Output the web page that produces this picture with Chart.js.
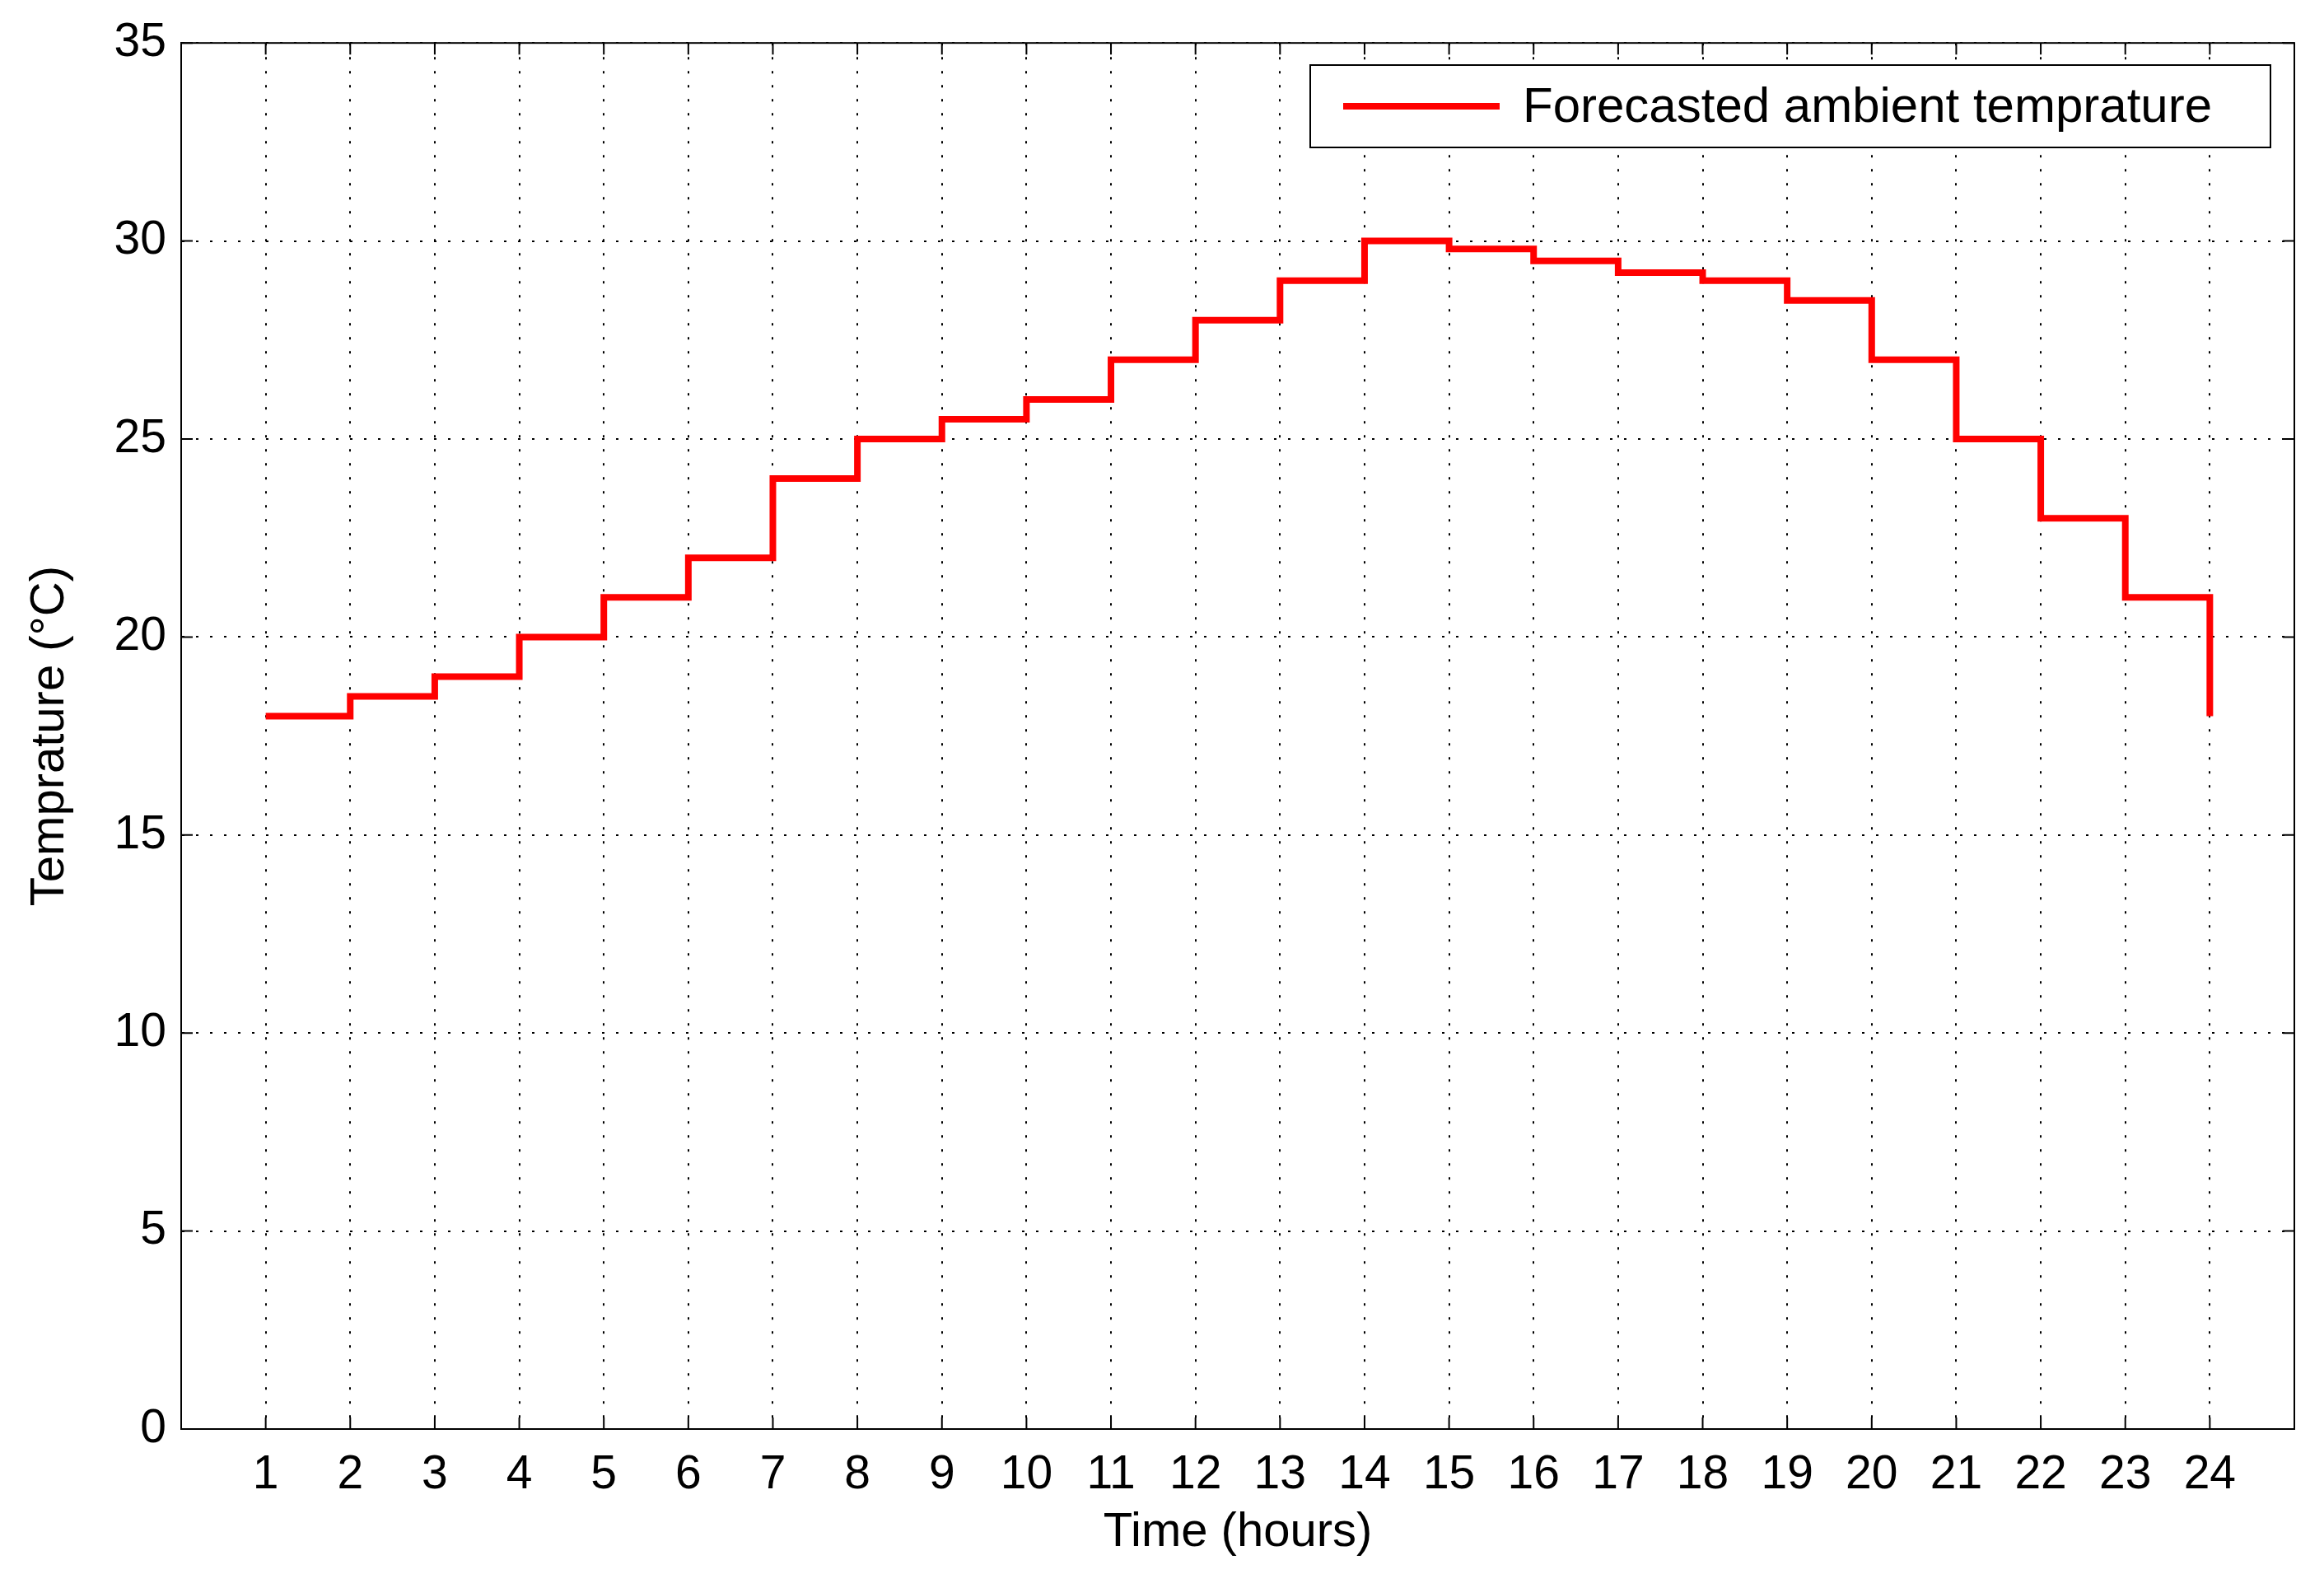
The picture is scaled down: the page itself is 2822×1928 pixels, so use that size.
<!DOCTYPE html>
<html>
<head>
<meta charset="utf-8">
<script src="https://cdn.jsdelivr.net/npm/chart.js@4"></script>
<style>
  body { margin: 0; background: #fff; }
  canvas { display: block; }
</style>
</head>
<body>
<canvas id="grafico" width="2822" height="1928"></canvas>
<script>
const horas = [1, 2, 3, 4, 5, 6, 7, 8, 9, 10, 11, 12, 13, 14, 15, 16, 17, 18, 19, 20, 21, 22, 23, 24];
const temperaturas = [18, 18.5, 19, 20, 21, 22, 24, 25, 25.5, 26, 27, 28, 29, 30, 29.8, 29.5, 29.2, 29, 28.5, 27, 25, 23, 21, 18];
const ticksY = [0, 5, 10, 15, 20, 25, 30, 35];
const rotuloSerie = 'Forecasted ambient temprature';
const fonte = 'Liberation Sans, Arial, sans-serif';

const pontos = horas.map((h, i) => ({ x: h, y: temperaturas[i] }));

// caixa da area + legenda com borda
const extras = {
    id: 'extras',
    afterDraw(chart) {
        const c = chart.ctx;
        const a = chart.chartArea;
        c.save();
        c.strokeStyle = '#000';
        c.lineWidth = 2;
        c.strokeRect(a.left, a.top, a.right - a.left, a.bottom - a.top);
        // marcas dos ticks para dentro
        const sx = chart.scales.x, sy = chart.scales.y;
        horas.forEach(h => {
            const px = sx.getPixelForValue(h);
            c.beginPath();
            c.moveTo(px, a.bottom); c.lineTo(px, a.bottom - 14);
            c.moveTo(px, a.top); c.lineTo(px, a.top + 14);
            c.stroke();
        });
        ticksY.forEach(v => {
            const py = sy.getPixelForValue(v);
            c.beginPath();
            c.moveTo(a.left, py); c.lineTo(a.left + 14, py);
            c.moveTo(a.right, py); c.lineTo(a.right - 14, py);
            c.stroke();
        });
        // legenda
        const lx = 1591, ly = 79, lw = 1166, lh = 100;
        c.fillStyle = '#fff';
        c.fillRect(lx, ly, lw, lh);
        c.strokeRect(lx, ly, lw, lh);
        c.strokeStyle = '#ff0000';
        c.lineWidth = 8;
        c.beginPath();
        c.moveTo(lx + 40, ly + lh / 2);
        c.lineTo(lx + 230, ly + lh / 2);
        c.stroke();
        c.fillStyle = '#000';
        c.font = '60px ' + fonte;
        c.textBaseline = 'middle';
        c.fillText(rotuloSerie, lx + 258, ly + lh / 2 + 2);
        c.restore();
    }
};

new Chart(document.getElementById('grafico'), {
    type: 'line',
    data: {
        datasets: [{
            label: rotuloSerie,
            data: pontos,
            stepped: true,
            borderColor: '#ff0000',
            borderWidth: 8,
            pointRadius: 0,
            fill: false
        }]
    },
    options: {
        responsive: false,
        animation: false,
        layout: { padding: { top: 49, right: 36, left: 22, bottom: 28 } },
        plugins: { legend: { display: false }, tooltip: { enabled: false } },
        scales: {
            x: {
                type: 'linear',
                min: 0,
                max: 25,
                afterBuildTicks: s => { s.ticks = horas.map(v => ({ value: v })); },
                afterFit: s => { s.height = 165; },
                ticks: { color: '#000', font: { size: 57, family: fonte }, padding: 22, maxRotation: 0 },
                grid: { color: '#000', lineWidth: 2, drawTicks: false },
                border: { display: true, color: '#000', width: 2, dash: [3, 14] },
                title: { display: true, text: 'Time (hours)', color: '#000', font: { size: 58, family: fonte }, padding: { top: 0 } }
            },
            y: {
                min: 0,
                max: 35,
                afterBuildTicks: s => { s.ticks = ticksY.map(v => ({ value: v })); },
                afterFit: s => { s.width = 198; },
                ticks: { color: '#000', font: { size: 57, family: fonte }, padding: 18 },
                grid: { color: '#000', lineWidth: 2, drawTicks: false },
                border: { display: true, color: '#000', width: 2, dash: [3, 14] },
                title: { display: true, text: 'Temprature (°C)', color: '#000', font: { size: 58, family: fonte }, padding: { bottom: 10 } }
            }
        }
    },
    plugins: [extras]
});
</script>
</body>
</html>
